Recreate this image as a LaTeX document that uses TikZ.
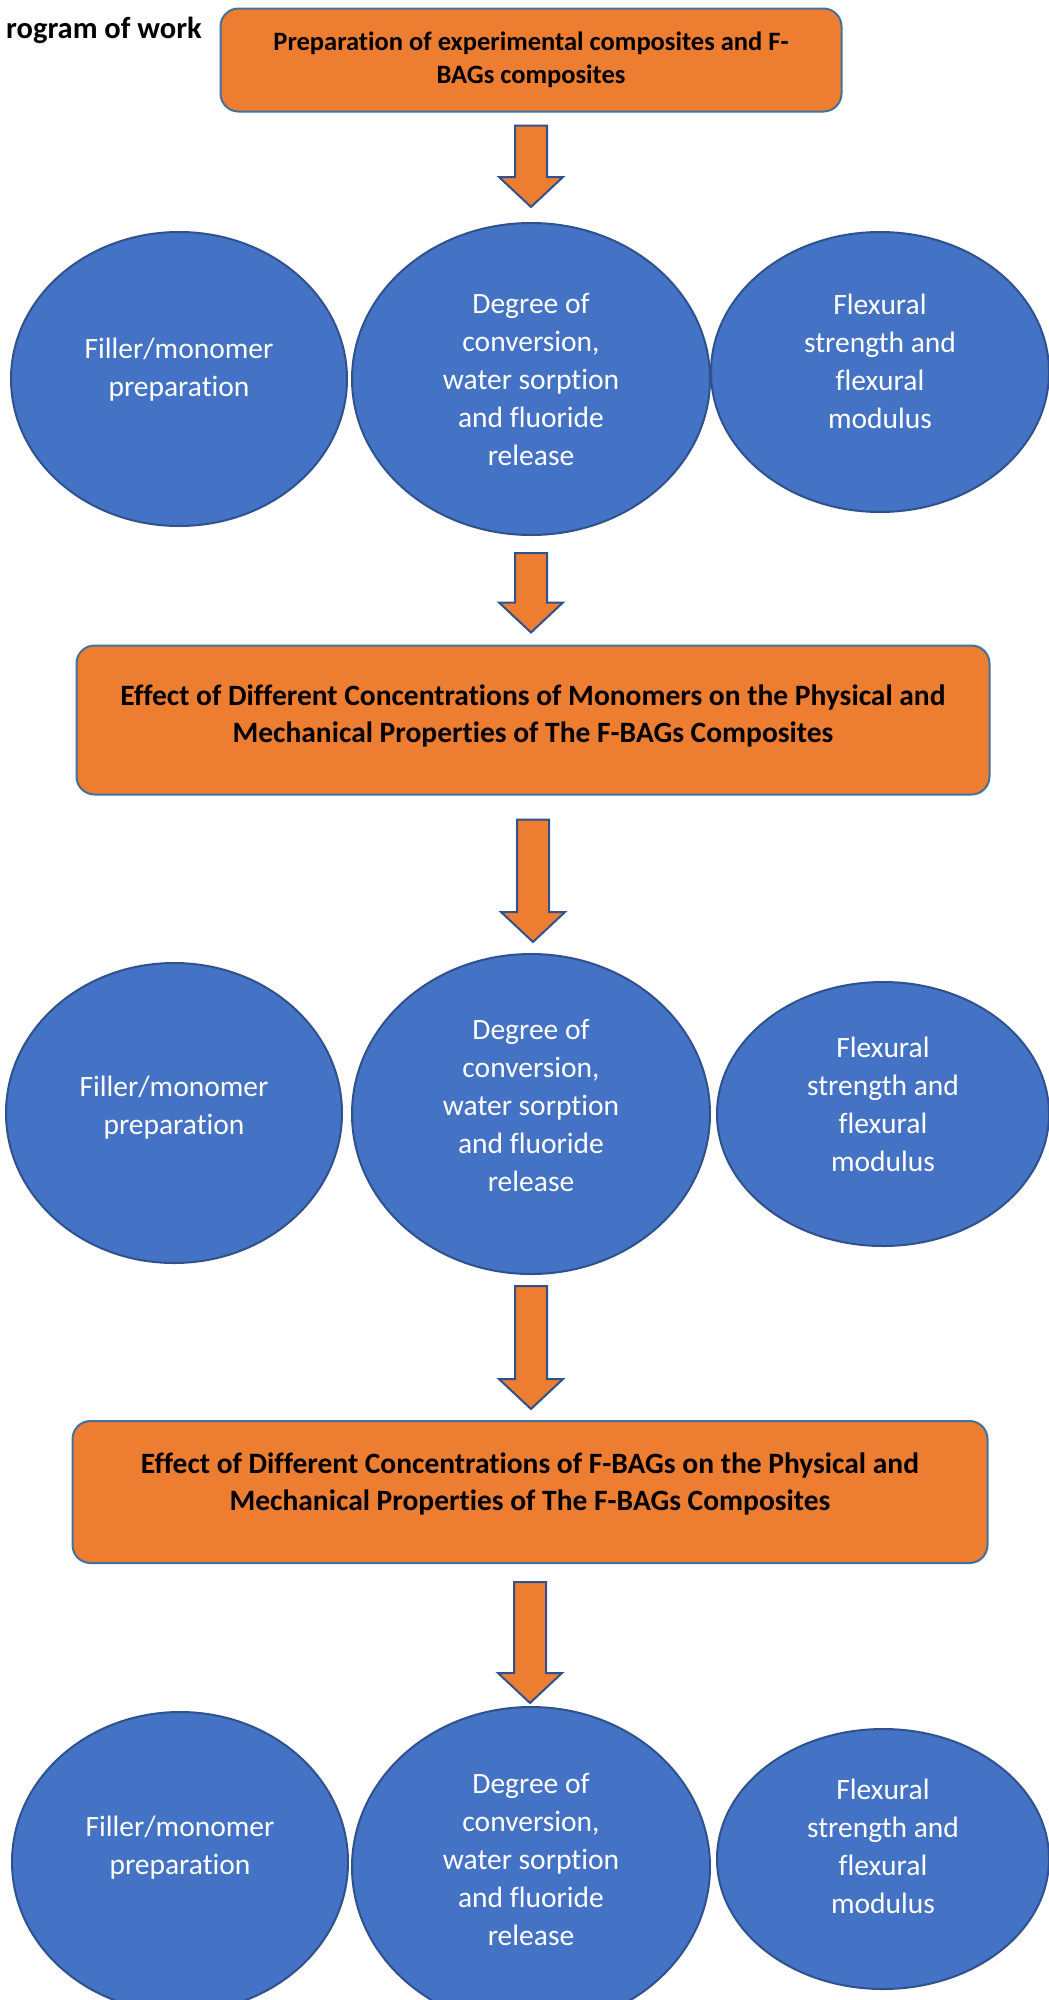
\documentclass[tikz,border=0pt]{standalone}
\usepackage{fontspec}
\setmainfont{Carlito}[Ligatures=NoCommon]
\usetikzlibrary{shapes,arrows,positioning,calc}
\definecolor{boxorange}{HTML}{ED7D31}
\definecolor{ovalblue}{HTML}{4472C4}
\definecolor{ovaledge}{HTML}{2F528F}
\definecolor{boxedge}{HTML}{41719C}

\tikzset{
  stagebox/.style={draw=boxedge, line width=2pt, fill=boxorange, rounded corners=18pt, inner sep=0pt},
  stagetext/.style={align=center, inner sep=0pt, font=\bfseries\fontsize{29.5}{37}\selectfont},
  topic/.style={ellipse, draw=ovaledge, line width=2pt, fill=ovalblue, inner sep=0pt},
  topictext/.style={text=white, align=center, inner sep=0pt, font=\fontsize{29.5}{38}\selectfont},
  arrowbody/.style={draw=ovaledge, line width=2pt, fill=boxorange, line join=miter}
}
% block arrow from below node #1 (gap #2) to above node #3 (gap #4)
\newcommand{\flowarrow}[4]{%
  \coordinate (s) at ($(#1.south)+(0,#2)$);
  \coordinate (t) at ($(s |- #3.north)+(0,-#4)$);
  \draw[arrowbody] ($(s)+(-16,0)$) -- ($(s)+(16,0)$) -- ($(t)+(16,-30)$) -- ($(t)+(32,-30)$)
    -- (t) -- ($(t)+(-32,-30)$) -- ($(t)+(-16,-30)$) -- cycle;}

\begin{document}
\begin{tikzpicture}[x=1pt, y=-1pt]
  \useasboundingbox (0,0) rectangle (1049,2000);

  \node[anchor=base east, inner sep=0pt, font=\bfseries\fontsize{30.5}{36}\selectfont] (title) at (202,38) {rogram of work};

  % first stage
  \node[stagebox, minimum width=621pt, minimum height=103pt] (prep) at (531,60) {};
  \node[stagetext, font=\bfseries\fontsize{26.5}{33}\selectfont] (prep-t) at (prep.center)
    {Preparation of experimental composites and F-\\BAGs composites};
  \node[topic, minimum width=336pt, minimum height=294pt] (fillA) at (179,379) {};
  \node[topic, minimum width=358pt, minimum height=312pt] (convA) at (531,379) {};
  \node[topic, minimum width=338pt, minimum height=280pt] (flexA) at (880,372) {};
  \node[topictext] (fillA-t) at ($(fillA.center)+(0,-9)$) {Filler/monomer\\preparation};
  \node[topictext] (convA-t) at ($(convA.center)+(0,0)$) {Degree of\\conversion,\\water sorption\\and fluoride\\release};
  \node[topictext] (flexA-t) at ($(flexA.center)+(0,-11)$) {Flexural\\strength and\\flexural\\modulus};

  % second stage
  \node[stagebox, minimum width=913pt, minimum height=149pt] (mono) at (533,720) {};
  \node[stagetext] (mono-t) at ($(mono.center)+(0,-4)$)
    {Effect of Different Concentrations of Monomers on the Physical and\\Mechanical Properties of The F-BAGs Composites};
  \node[topic, minimum width=336pt, minimum height=300pt] (fillB) at (174,1113) {};
  \node[topic, minimum width=358pt, minimum height=320pt] (convB) at (531,1114) {};
  \node[topic, minimum width=332pt, minimum height=264pt] (flexB) at (883,1114) {};
  \node[topictext] (fillB-t) at ($(fillB.center)+(0,-5)$) {Filler/monomer\\preparation};
  \node[topictext] (convB-t) at ($(convB.center)+(0,-9)$) {Degree of\\conversion,\\water sorption\\and fluoride\\release};
  \node[topictext] (flexB-t) at ($(flexB.center)+(0,-10)$) {Flexural\\strength and\\flexural\\modulus};

  % third stage
  \node[stagebox, minimum width=915pt, minimum height=142pt] (fbag) at (530,1492) {};
  \node[stagetext] (fbag-t) at ($(fbag.center)+(0,-8)$)
    {Effect of Different Concentrations of F-BAGs on the Physical and\\Mechanical Properties of The F-BAGs Composites};
  \node[topic, minimum width=336pt, minimum height=300pt] (fillC) at (180,1862) {};
  \node[topic, minimum width=358pt, minimum height=320pt] (convC) at (531,1867) {};
  \node[topic, minimum width=332pt, minimum height=260pt] (flexC) at (883,1859) {};
  \node[topictext] (fillC-t) at ($(fillC.center)+(0,-14)$) {Filler/monomer\\preparation};
  \node[topictext] (convC-t) at ($(convC.center)+(0,-8)$) {Degree of\\conversion,\\water sorption\\and fluoride\\release};
  \node[topictext] (flexC-t) at ($(flexC.center)+(0,-13)$) {Flexural\\strength and\\flexural\\modulus};

  % arrows
  \flowarrow{prep}{13}{convA}{15}
  \flowarrow{convA}{17}{mono}{12}
  \flowarrow{mono}{24}{convB}{11}
  \flowarrow{convB}{11}{fbag}{11}
  \flowarrow{fbag}{18}{convC}{3}
\end{tikzpicture}
\end{document}
